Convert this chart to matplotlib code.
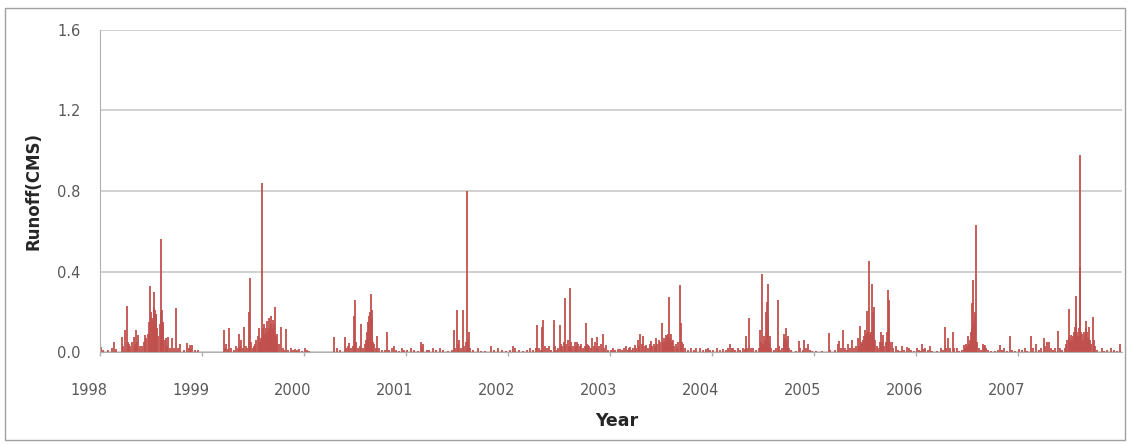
import matplotlib
matplotlib.use("Agg")
import matplotlib.pyplot as plt
import matplotlib.transforms as mtrans
from matplotlib.patches import Rectangle

# daily runoff (CMS), day of year -> value
days_1998 = [4, 12, 30, 45, 50, 58, 79, 85, 91, 96, 100, 105, 110, 115, 121, 126, 131, 135, 138, 145,
             152, 157, 162, 166, 171, 175, 179, 182, 186, 190, 194, 196, 198, 201, 203, 206, 210, 214,
             218, 220, 222, 225, 228, 232, 236, 241, 246, 252, 260, 266, 272, 279, 286, 300, 314, 318,
             323, 328, 332, 340, 350]
runoff_1998 = [0.025, 0.01, 0.01, 0.02, 0.05, 0.015, 0.075, 0.03, 0.11, 0.23, 0.05, 0.04, 0.03, 0.05,
               0.075, 0.04, 0.11, 0.05, 0.085, 0.03, 0.03, 0.05, 0.085, 0.07, 0.09, 0.15, 0.33, 0.2,
               0.17, 0.16, 0.30, 0.22, 0.21, 0.19, 0.19, 0.12, 0.08, 0.14, 0.56, 0.2, 0.21, 0.15, 0.13,
               0.06, 0.07, 0.03, 0.075, 0.02, 0.07, 0.02, 0.22, 0.02, 0.04, 0.01, 0.045, 0.02, 0.035,
               0.015, 0.035, 0.01, 0.01]

days_1999 = [78, 83, 88, 93, 98, 104, 115, 124, 129, 133, 138, 142, 146, 151, 157, 163, 168, 170, 172,
             176, 182, 186, 191, 196, 200, 205, 209, 212, 216, 219, 223, 227, 230, 233, 236, 239, 241,
             244, 247, 249, 252, 255, 257, 260, 262, 265, 268, 271, 276, 283, 290, 296, 303, 310, 318,
             325, 333, 340, 348, 358]
runoff_1999 = [0.11, 0.02, 0.04, 0.015, 0.12, 0.02, 0.01, 0.03, 0.02, 0.087, 0.03, 0.06, 0.02, 0.125,
               0.03, 0.02, 0.06, 0.20, 0.37, 0.05, 0.02, 0.03, 0.04, 0.06, 0.08, 0.12, 0.05, 0.07,
               0.84, 0.12, 0.14, 0.09, 0.12, 0.155, 0.10, 0.12, 0.17, 0.11, 0.14, 0.18, 0.12, 0.16,
               0.14, 0.09, 0.225, 0.08, 0.05, 0.09, 0.04, 0.125, 0.02, 0.01, 0.115, 0.01, 0.02, 0.01,
               0.015, 0.01, 0.015, 0.005]

days_2000 = [5, 10, 20, 110, 118, 130, 146, 152, 158, 163, 170, 176, 181, 184, 188, 195, 200, 205,
             212, 218, 223, 228, 231, 234, 237, 241, 244, 246, 249, 253, 258, 262, 270, 280, 290, 298,
             305, 315, 322, 330, 340, 351, 360]
runoff_2000 = [0.02, 0.01, 0.005, 0.073, 0.02, 0.01, 0.077, 0.02, 0.03, 0.045, 0.02, 0.03, 0.18, 0.26,
               0.05, 0.02, 0.03, 0.14, 0.02, 0.04, 0.06, 0.10, 0.15, 0.18, 0.20, 0.29, 0.17, 0.21,
               0.05, 0.04, 0.02, 0.08, 0.02, 0.01, 0.01, 0.10, 0.01, 0.02, 0.03, 0.01, 0.005, 0.02,
               0.01]

days_2001 = [5, 19, 30, 45, 55, 58, 61, 75, 85, 97, 110, 123, 135, 150, 165, 174, 178, 184, 188, 192,
             198, 205, 210, 215, 219, 222, 226, 230, 240, 258, 270, 285, 305, 315, 329, 345, 360]
runoff_2001 = [0.01, 0.02, 0.01, 0.005, 0.05, 0.03, 0.04, 0.01, 0.01, 0.02, 0.01, 0.02, 0.01, 0.005,
               0.01, 0.11, 0.02, 0.21, 0.04, 0.06, 0.02, 0.21, 0.03, 0.05, 0.80, 0.06, 0.10, 0.02,
               0.01, 0.02, 0.005, 0.005, 0.03, 0.01, 0.02, 0.01, 0.005]

days_2002 = [10, 19, 25, 40, 55, 70, 79, 90, 100, 106, 112, 118, 124, 128, 133, 140, 148, 155, 165,
             170, 175, 181, 186, 190, 196, 202, 206, 210, 214, 218, 222, 225, 228, 233, 240, 244, 248,
             253, 258, 264, 270, 275, 279, 283, 287, 292, 298, 303, 308, 314, 318, 321, 326, 333, 341,
             346, 351, 358]
runoff_2002 = [0.01, 0.03, 0.02, 0.01, 0.005, 0.01, 0.02, 0.01, 0.02, 0.135, 0.02, 0.01, 0.125, 0.16,
               0.03, 0.02, 0.03, 0.01, 0.16, 0.03, 0.01, 0.02, 0.135, 0.04, 0.03, 0.05, 0.267, 0.04,
               0.06, 0.03, 0.32, 0.05, 0.02, 0.03, 0.05, 0.03, 0.05, 0.04, 0.03, 0.04, 0.02, 0.03,
               0.146, 0.04, 0.035, 0.03, 0.02, 0.07, 0.03, 0.05, 0.02, 0.075, 0.03, 0.04, 0.09, 0.02,
               0.035, 0.01]

days_2003 = [5, 12, 20, 28, 36, 45, 50, 57, 64, 70, 74, 80, 85, 89, 95, 101, 106, 110, 114, 119, 125,
             131, 137, 143, 149, 153, 157, 161, 165, 170, 176, 181, 187, 190, 193, 197, 200, 203, 206,
             209, 212, 215, 218, 221, 224, 226, 230, 236, 242, 246, 250, 254, 258, 262, 270, 280, 292,
             300, 310, 322, 335, 345, 353, 360]
runoff_2003 = [0.01, 0.02, 0.01, 0.015, 0.015, 0.01, 0.02, 0.03, 0.01, 0.02, 0.025, 0.01, 0.02, 0.035,
               0.02, 0.06, 0.03, 0.09, 0.04, 0.08, 0.03, 0.035, 0.02, 0.04, 0.055, 0.03, 0.04, 0.03,
               0.07, 0.04, 0.06, 0.05, 0.143, 0.05, 0.07, 0.05, 0.085, 0.06, 0.08, 0.09, 0.275, 0.07,
               0.05, 0.09, 0.05, 0.06, 0.03, 0.04, 0.02, 0.05, 0.333, 0.145, 0.05, 0.04, 0.02, 0.01,
               0.02, 0.01, 0.02, 0.02, 0.01, 0.015, 0.02, 0.01]

days_2004 = [5, 18, 30, 40, 50, 60, 66, 72, 78, 85, 95, 103, 113, 118, 123, 128, 135, 140, 149, 160,
             168, 173, 176, 179, 183, 188, 192, 195, 197, 200, 203, 206, 209, 214, 222, 230, 236, 240,
             245, 252, 257, 260, 263, 265, 268, 272, 276, 285, 300, 312, 317, 325, 332, 337, 343, 352,
             360]
runoff_2004 = [0.01, 0.02, 0.01, 0.015, 0.01, 0.02, 0.04, 0.02, 0.02, 0.01, 0.02, 0.01, 0.02, 0.015,
               0.08, 0.02, 0.17, 0.02, 0.02, 0.01, 0.02, 0.11, 0.05, 0.387, 0.04, 0.08, 0.06, 0.20,
               0.25, 0.18, 0.34, 0.05, 0.08, 0.02, 0.01, 0.02, 0.26, 0.03, 0.01, 0.02, 0.05, 0.087,
               0.07, 0.12, 0.06, 0.08, 0.02, 0.01, 0.005, 0.055, 0.02, 0.01, 0.06, 0.02, 0.04, 0.01,
               0.005]

days_2005 = [10, 30, 53, 60, 75, 86, 91, 96, 106, 112, 118, 124, 130, 138, 145, 150, 157, 162, 166,
             170, 172, 176, 180, 184, 187, 190, 193, 195, 198, 201, 204, 208, 211, 214, 217, 221, 225,
             230, 236, 241, 245, 249, 253, 258, 262, 265, 268, 270, 274, 279, 285, 293, 300, 308, 315,
             322, 333, 340, 350, 358]
runoff_2005 = [0.005, 0.005, 0.093, 0.01, 0.01, 0.04, 0.055, 0.02, 0.11, 0.02, 0.01, 0.04, 0.02, 0.06,
               0.02, 0.03, 0.07, 0.03, 0.13, 0.05, 0.04, 0.06, 0.08, 0.11, 0.09, 0.205, 0.09, 0.10,
               0.45, 0.09, 0.10, 0.34, 0.20, 0.12, 0.225, 0.06, 0.03, 0.02, 0.05, 0.10, 0.05, 0.085,
               0.03, 0.05, 0.10, 0.31, 0.12, 0.26, 0.05, 0.05, 0.02, 0.03, 0.01, 0.005, 0.03, 0.01,
               0.025, 0.02, 0.01, 0.005]

days_2006 = [5, 12, 18, 23, 30, 35, 45, 53, 60, 75, 90, 98, 104, 110, 116, 122, 132, 138, 148, 155,
             165, 172, 176, 181, 184, 187, 190, 193, 196, 199, 201, 203, 205, 208, 211, 214, 216, 219,
             225, 232, 241, 245, 249, 253, 260, 270, 285, 295, 303, 308, 315, 325, 339, 345, 355]
runoff_2006 = [0.02, 0.01, 0.005, 0.04, 0.015, 0.02, 0.01, 0.03, 0.005, 0.005, 0.02, 0.01, 0.123, 0.02,
               0.07, 0.02, 0.10, 0.02, 0.02, 0.005, 0.01, 0.035, 0.02, 0.04, 0.03, 0.08, 0.04, 0.03,
               0.06, 0.10, 0.242, 0.12, 0.36, 0.15, 0.18, 0.20, 0.63, 0.05, 0.02, 0.01, 0.04, 0.03,
               0.035, 0.02, 0.01, 0.005, 0.005, 0.01, 0.035, 0.01, 0.02, 0.005, 0.08, 0.01, 0.005]

days_2007 = [5, 15, 25, 35, 48, 55, 67, 75, 85, 93, 98, 104, 111, 118, 128, 135, 143, 150, 160, 168,
             174, 178, 182, 185, 188, 191, 194, 197, 200, 203, 206, 208, 210, 213, 216, 219, 222, 224,
             227, 230, 233, 236, 240, 243, 246, 249, 252, 255, 258, 262, 268, 272, 276, 285, 300, 310,
             320, 334, 345, 355, 365]
runoff_2007 = [0.015, 0.01, 0.02, 0.005, 0.08, 0.02, 0.04, 0.01, 0.02, 0.07, 0.03, 0.05, 0.05, 0.02,
               0.01, 0.02, 0.106, 0.02, 0.01, 0.02, 0.04, 0.06, 0.212, 0.07, 0.05, 0.085, 0.06, 0.08,
               0.10, 0.07, 0.125, 0.15, 0.28, 0.10, 0.08, 0.12, 0.98, 0.42, 0.10, 0.09, 0.06, 0.10,
               0.08, 0.12, 0.155, 0.10, 0.07, 0.125, 0.06, 0.04, 0.175, 0.06, 0.03, 0.01, 0.02, 0.005,
               0.01, 0.02, 0.01, 0.005, 0.04]

years = [1998, 1999, 2000, 2001, 2002, 2003, 2004, 2005, 2006, 2007]
all_days = [days_1998, days_1999, days_2000, days_2001, days_2002,
            days_2003, days_2004, days_2005, days_2006, days_2007]
all_runoff = [runoff_1998, runoff_1999, runoff_2000, runoff_2001, runoff_2002,
              runoff_2003, runoff_2004, runoff_2005, runoff_2006, runoff_2007]

# time axis in decimal years
x = []
y = []
for yr, dd, rr in zip(years, all_days, all_runoff):
    for d, r in zip(dd, rr):
        x.append(yr + (d - 1) / 365.0)
        y.append(r)

fig = plt.figure(figsize=(11.28, 4.44), dpi=100)
ax = fig.add_axes([100 / 1128, 1 - 352 / 444, 1022 / 1128, 322 / 444])

ax.vlines(x, 0, y, color='#C0504D', linewidth=1.3)

ax.set_xlim(1998, 2008.02)
ax.set_ylim(0, 1.6)
ax.set_yticks([0.0, 0.4, 0.8, 1.2, 1.6])
ax.set_yticklabels(['0.0', '0.4', '0.8', '1.2', '1.6'])
ax.set_xticks(years)
ax.set_xticklabels([str(v) for v in years])

ax.grid(axis='y', color='#C8C8C8', linewidth=1.2)
ax.set_axisbelow(True)
for s in ['top', 'right']:
    ax.spines[s].set_visible(False)
ax.spines['left'].set_color('#B0B0B0')
ax.spines['bottom'].set_color('#B0B0B0')

ax.tick_params(axis='y', length=0, pad=14, labelsize=10.5, labelcolor='#595959')
ax.tick_params(axis='x', length=3, width=1, color='#B0B0B0', direction='out',
               pad=19, labelsize=10.5, labelcolor='#595959')

# Excel puts the year labels a little to the left of the tick
offset = mtrans.ScaledTranslation(-11 / 100, 0, fig.dpi_scale_trans)
for lab in ax.get_xticklabels():
    lab.set_transform(lab.get_transform() + offset)

fig.text(34 / 1128, 1 - 191 / 444, 'Runoff(CMS)', rotation=90, ha='center', va='center',
         fontsize=12, fontweight='bold', color='#262626')
fig.text(617 / 1128, 1 - 421 / 444, 'Year', ha='center', va='center',
         fontsize=12.5, fontweight='bold', color='#262626')

# outer frame of the chart area
fig.patches.append(Rectangle((5 / 1128, 4 / 444), 1120 / 1128, 432 / 444, transform=fig.transFigure,
                             fill=False, edgecolor='#A0A0A0', linewidth=1))

fig.savefig('out.png', dpi=100)
